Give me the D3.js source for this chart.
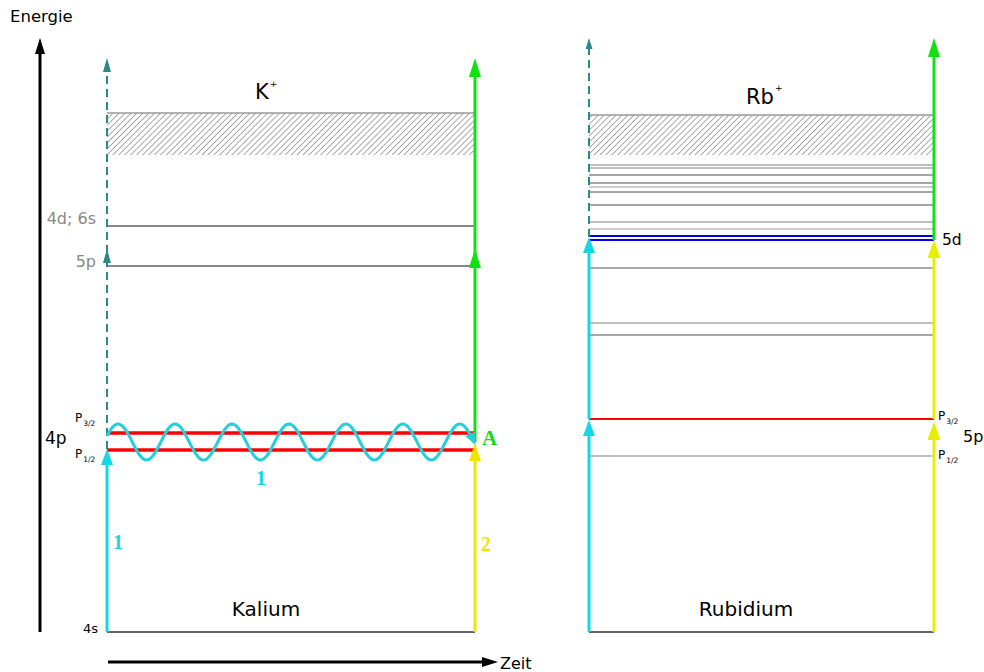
<!DOCTYPE html>
<html>
<head>
<meta charset="utf-8">
<script src="https://cdn.jsdelivr.net/npm/d3@7"></script>
<style>
  body { margin: 0; background: #fff; }
  text { font-family: "DejaVu Sans", Verdana, sans-serif; }
  .num { font-family: "Liberation Serif", "DejaVu Serif", serif; font-weight: bold; }
</style>
</head>
<body>
<div id="chart"></div>
<script>
const width = 984;
const height = 672;

// energy values (arbitrary units, 0 = ground state)
const kLevelNames  = ["4s", "P1/2", "P3/2", "5p", "4d; 6s"];
const kLevelEnergy = [0, 182, 199, 366, 406];
const kLevelKind   = ["ground", "fine", "fine", "gray", "gray"];
const kIonBand     = [477, 519];

const rbLevelEnergy = [0, 176, 213, 297, 309, 364, 392, 396, 403, 410, 427, 440, 445, 449, 457, 464, 467];
const rbLevelKind   = ["ground", "light", "red", "mid", "light", "light2", "blue", "blue", "pale", "light", "mid", "mid", "pale", "mid", "mid", "light", "light"];
const rbIonBand     = [477, 517];

// arrows: side (0 = left, 1 = right of panel), from, to energy, kind
const kArrows = [
  { side: 0, from: 0,   to: 183, kind: "cyan" },
  { side: 0, from: 183, to: 383, kind: "teal" },
  { side: 0, from: 366, to: 574, kind: "teal" },
  { side: 1, from: 0,   to: 189, kind: "yellowK" },
  { side: 1, from: 190, to: 383, kind: "green" },
  { side: 1, from: 366, to: 574, kind: "green" }
];
const rbArrows = [
  { side: 0, from: 0,   to: 212, kind: "cyan" },
  { side: 0, from: 213, to: 395, kind: "cyan" },
  { side: 0, from: 395, to: 594, kind: "tealSmall" },
  { side: 1, from: 0,   to: 210, kind: "yellowRb" },
  { side: 1, from: 213, to: 392, kind: "yellowRb" },
  { side: 1, from: 392, to: 594, kind: "green" }
];

// photon wave of laser 1 (energy centre, amplitude, half periods)
const waveCenter = 190;
const waveAmp = 18;
const waveHalfPeriods = 13;

const svg = d3.select("#chart")
  .append("svg")
  .attr("width", width)
  .attr("height", height);

const y = d3.scaleLinear().domain([0, 594]).range([632, 38]);
const xK = d3.scaleLinear().domain([0, 1]).range([107, 475]);
const xRb = d3.scaleLinear().domain([0, 1]).range([589, 934]);

const arrowStyle = {
  cyan:      { color: "#13d6e6", w: 3, len: 16, wid: 12, dash: null },
  teal:      { color: "#2a8a8a", w: 2, len: 14, wid: 8,  dash: "8,5" },
  tealSmall: { color: "#2a8a8a", w: 2, len: 11, wid: 7,  dash: "8,5" },
  green:     { color: "#11e011", w: 3, len: 19, wid: 12, dash: null },
  yellowK:   { color: "#f0e400", w: 3, len: 18, wid: 12, dash: null },
  yellowRb:  { color: "#e4f000", w: 3, len: 18, wid: 13, dash: null },
  axis:      { color: "#000",    w: 3, len: 16, wid: 10, dash: null }
};

const levelStyle = {
  ground: { color: "#333", w: 1.5 },
  fine:   { color: "#ff0000", w: 3.5 },
  gray:   { color: "#888", w: 2 },
  red:    { color: "#ff0000", w: 2 },
  blue:   { color: "#0000ee", w: 2 },
  light:  { color: "#aaa", w: 1.5 },
  light2: { color: "#aaa", w: 2.2 },
  mid:    { color: "#888", w: 1.5 },
  pale:   { color: "#bbb", w: 1.5 }
};

const defs = svg.append("defs");

// hatch for ionisation continuum
defs.append("pattern")
  .attr("id", "hatch")
  .attr("patternUnits", "userSpaceOnUse")
  .attr("width", 4.2)
  .attr("height", 4.2)
  .attr("patternTransform", "rotate(45)")
  .append("line")
  .attr("x1", 0).attr("y1", 0)
  .attr("x2", 0).attr("y2", 4.2)
  .attr("stroke", "#666")
  .attr("stroke-width", 1.1);

// arrow markers
Object.entries(arrowStyle).forEach(([k, s]) => {
  defs.append("marker")
    .attr("id", "head-" + k)
    .attr("viewBox", `0 0 ${s.len} ${s.wid}`)
    .attr("refX", s.len / 2)
    .attr("refY", s.wid / 2)
    .attr("markerWidth", s.len)
    .attr("markerHeight", s.wid)
    .attr("markerUnits", "userSpaceOnUse")
    .attr("orient", "auto")
    .append("path")
    .attr("d", `M0,0L${s.len},${s.wid / 2}L0,${s.wid}Z`)
    .attr("fill", s.color);
});

function drawPanel(g, x, energies, kinds, band) {
  // continuum
  g.append("rect")
    .attr("x", x(0))
    .attr("y", y(band[1]))
    .attr("width", x(1) - x(0))
    .attr("height", y(band[0]) - y(band[1]))
    .attr("fill", "url(#hatch)");
  g.append("line")
    .attr("x1", x(0)).attr("x2", x(1))
    .attr("y1", y(band[1])).attr("y2", y(band[1]))
    .attr("stroke", "#999").attr("stroke-width", 1.5);

  // levels
  g.selectAll(".level")
    .data(energies)
    .enter().append("line")
    .attr("class", "level")
    .attr("x1", x(0)).attr("x2", x(1))
    .attr("y1", d => y(d)).attr("y2", d => y(d))
    .attr("stroke", (d, i) => levelStyle[kinds[i]].color)
    .attr("stroke-width", (d, i) => levelStyle[kinds[i]].w);
}

function drawArrows(g, x, arrows) {
  g.selectAll(".arrow")
    .data(arrows)
    .enter().append("line")
    .attr("class", "arrow")
    .attr("x1", d => x(d.side)).attr("x2", d => x(d.side))
    .attr("y1", d => y(d.from))
    .attr("y2", d => y(d.to) + arrowStyle[d.kind].len / 2)
    .attr("stroke", d => arrowStyle[d.kind].color)
    .attr("stroke-width", d => arrowStyle[d.kind].w)
    .attr("stroke-dasharray", d => arrowStyle[d.kind].dash)
    .attr("marker-end", d => "url(#head-" + d.kind + ")");
}

const gK = svg.append("g");
const gRb = svg.append("g");
drawPanel(gK, xK, kLevelEnergy, kLevelKind, kIonBand);
drawPanel(gRb, xRb, rbLevelEnergy, rbLevelKind, rbIonBand);
drawArrows(gK, xK, kArrows);
drawArrows(gRb, xRb, rbArrows);

// photon wave
const phase0 = 0.35;
const phase1 = waveHalfPeriods * Math.PI;
const waveX0 = xK(0), waveX1 = xK(1) - 1;
const wavePts = d3.range(0, 1.0001, 0.004).map(t => {
  const ph = phase0 + t * (phase1 - phase0);
  return [waveX0 + t * (waveX1 - waveX0), y(waveCenter + waveAmp * Math.sin(ph))];
});
defs.append("marker")
  .attr("id", "head-wave")
  .attr("viewBox", "0 0 12 10")
  .attr("refX", 9).attr("refY", 5)
  .attr("markerWidth", 12).attr("markerHeight", 10)
  .attr("markerUnits", "userSpaceOnUse")
  .attr("orient", "auto")
  .append("path").attr("d", "M0,0L12,5L0,10Z").attr("fill", "#22d0dc");
svg.append("path")
  .attr("d", d3.line()(wavePts))
  .attr("fill", "none")
  .attr("stroke", "#22d0dc")
  .attr("stroke-width", 3)
  .attr("marker-end", "url(#head-wave)");

// energy axis and time axis
svg.append("line")
  .attr("x1", 40).attr("x2", 40)
  .attr("y1", y(0)).attr("y2", y(594) + 8)
  .attr("stroke", "#000").attr("stroke-width", 3)
  .attr("marker-end", "url(#head-axis)");
svg.append("line")
  .attr("x1", 108).attr("x2", 490)
  .attr("y1", 662).attr("y2", 662)
  .attr("stroke", "#000").attr("stroke-width", 3)
  .attr("marker-end", "url(#head-axis)");

// texts
function label(txt, x, yy, size, opts = {}) {
  return svg.append("text")
    .attr("x", x).attr("y", yy)
    .attr("font-size", size)
    .attr("fill", opts.fill || "#000")
    .attr("text-anchor", opts.anchor || "start")
    .attr("class", opts.cls || null)
    .text(txt);
}

function subLabel(main, sub, x, yy) {
  const t = svg.append("text").attr("x", x).attr("y", yy).attr("font-size", 12);
  t.append("tspan").text(main);
  t.append("tspan").attr("font-size", 7.5).attr("dy", 4).attr("dx", 1).text(sub);
}

label("Energie", 10, 22, 16.5);
label("Zeit", 500, 669, 16);

const kPlus = label("K", 255, 99, 21);
kPlus.append("tspan").attr("font-size", 9).attr("dy", -12).attr("dx", 1).text("+");
const rbPlus = label("Rb", 746, 104, 21);
rbPlus.append("tspan").attr("font-size", 9).attr("dy", -13).attr("dx", 1).text("+");

label("Kalium", 266, 616, 20, { anchor: "middle" });
label("Rubidium", 746, 616, 20, { anchor: "middle" });

label(kLevelNames[4], 96, y(kLevelEnergy[4]) - 2, 16, { anchor: "end", fill: "#888" });
label(kLevelNames[3], 96, y(kLevelEnergy[3]) + 1, 16, { anchor: "end", fill: "#888" });
label("4p", 45, 444, 17);
label(kLevelNames[0], 98, 633, 13, { anchor: "end" });
subLabel("P", "3/2", 75, 422);
subLabel("P", "1/2", 75, 458);

label("5d", 942, 245, 15.5);
label("5p", 963, 442, 16);
subLabel("P", "3/2", 938, 420);
subLabel("P", "1/2", 938, 459);

label("A", 482, 445, 21, { fill: "#11dd11", cls: "num" });
label("1", 256, 485, 20, { fill: "#13d6e6", cls: "num" });
label("1", 113, 549, 20, { fill: "#13d6e6", cls: "num" });
label("2", 481, 551, 20, { fill: "#f0e400", cls: "num" });
</script>
</body>
</html>
